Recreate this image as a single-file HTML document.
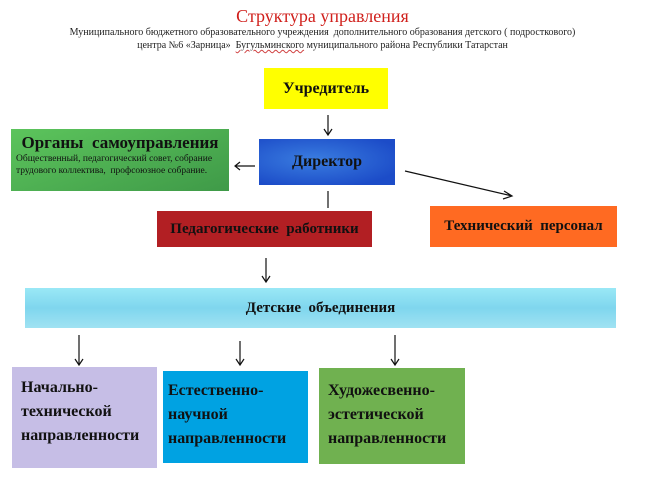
<!DOCTYPE html>
<html><head><meta charset="utf-8"><style>
body{margin:0;width:645px;height:482px;background:#fff;position:relative;overflow:hidden;font-family:"Liberation Serif","Noto Serif CJK SC",serif;}
.a{position:absolute;}
.b{position:absolute;display:flex;align-items:center;justify-content:center;font-weight:bold;color:#111;font-size:15px;}
.t{position:absolute;font-weight:bold;font-size:16px;line-height:24px;color:#111;}
</style></head><body>
<div class="a" style="left:0;width:645px;top:6px;text-align:center;color:#d0201c;font-size:18px;">Структура управления</div>
<div class="a" style="left:0;width:645px;top:26px;text-align:center;font-size:10px;line-height:13px;color:#222;">Муниципального бюджетного образовательного учреждения&nbsp; дополнительного образования детского ( подросткового)<br>центра №6 «Зарница»&nbsp; <span style="text-decoration:underline wavy #d04040;">Бугульминского</span> муниципального района Республики Татарстан</div>

<div class="b" style="left:264px;top:68px;width:124px;height:41px;background:#ffff00;font-size:16px;">Учредитель</div>
<div class="a" style="left:11px;top:129px;width:218px;height:62px;background:linear-gradient(160deg,#5cc45c,#3f9a48);">
<div style="text-align:center;font-weight:bold;font-size:17px;margin-top:4px;color:#111;">Органы&nbsp; самоуправления</div>
<div style="font-size:9.5px;line-height:12px;padding-left:5px;color:#111;">Общественный, педагогический совет, собрание<br>трудового коллектива,&nbsp; профсоюзное собрание.</div></div>
<div class="b" style="left:259px;top:139px;width:136px;height:46px;background:radial-gradient(ellipse at 40% 45%,#3a7de0,#1c4cc8 80%);font-size:16px;">Директор</div>
<div class="b" style="left:157px;top:211px;width:215px;height:36px;background:#b21f23;font-size:15px;">Педагогические&nbsp; работники</div>
<div class="b" style="left:430px;top:206px;width:187px;height:41px;background:#ff6a22;font-size:15px;">Технический&nbsp; персонал</div>
<div class="b" style="left:25px;top:288px;width:591px;height:40px;background:linear-gradient(180deg,#9ae8f6,#7fd6ee 50%,#a0e2f2);font-size:15px;">Детские&nbsp; объединения</div>
<div class="a" style="left:12px;top:367px;width:145px;height:101px;background:#c6bee6;"></div>
<div class="t" style="left:21px;top:376px;">Начально-<br>технической<br>направленности</div>
<div class="a" style="left:163px;top:371px;width:145px;height:92px;background:#00a2e2;"></div>
<div class="t" style="left:168px;top:379px;">Естественно-<br>научной<br>направленности</div>
<div class="a" style="left:319px;top:368px;width:146px;height:96px;background:#70b150;"></div>
<div class="t" style="left:328px;top:379px;">Художесвенно-<br>эстетической<br>направленности</div>

<svg class="a" style="left:0;top:0" width="645" height="482">
<g stroke="#111" stroke-width="1.2" fill="none">
<path d="M328 115V135M324 129L328 135L332 129"/>
<path d="M255 166H235M240 162L235 166L240 170"/>
<path d="M405 171L512 196M504 191L512 196L503 199"/>
<path d="M328 191V208"/>
<path d="M266 258V282M262 276L266 282L270 276"/>
<path d="M79 335V365M75 359L79 365L83 359"/>
<path d="M240 341V365M236 359L240 365L244 359"/>
<path d="M395 335V365M391 359L395 365L399 359"/>
</g></svg>
</body></html>
